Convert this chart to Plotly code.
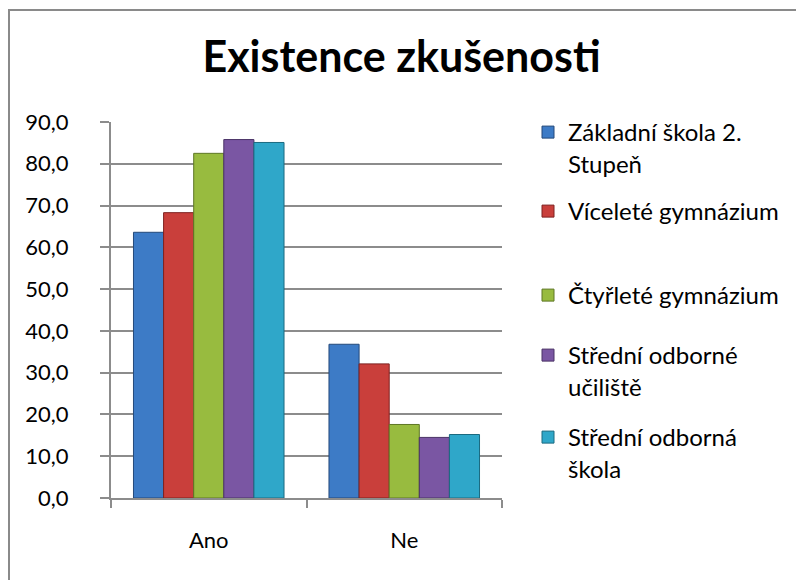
import plotly.graph_objects as go

categories = ["Ano", "Ne"]
series_names = [
    "Základní škola 2.<br>Stupeň",
    "Víceleté gymnázium",
    "Čtyřleté gymnázium",
    "Střední odborné<br>učiliště",
    "Střední odborná<br>škola",
]
zakladni = [63.6, 36.8]
vicelete = [68.3, 32.1]
ctyrlete = [82.5, 17.6]
sou = [85.8, 14.5]
sos = [85.1, 15.2]
values = [zakladni, vicelete, ctyrlete, sou, sos]
y_ticks = [0, 10, 20, 30, 40, 50, 60, 70, 80, 90]

colors = ["#3D7BC6", "#C93F3B", "#98BB3F", "#7A56A3", "#2FA7C9"]
edges = ["#24497A", "#7E2220", "#5E7725", "#4A3366", "#1B6A80"]

FONT = "Lato"
OFF = 8  # default page body margin
W, H = 804 - OFF, 580 - OFF
# page-pixel positions of plot area
PL, PR, PT, PB = 111, 502, 122, 498
L, T = PL - OFF, PT - OFF
R, B = W - (PR - OFF), H - (PB - OFF)
pw, ph = W - L - R, H - T - B

def px_x(x):  # page pixel -> paper
    return (x - OFF - L) / pw

def px_y(y):
    return (H - B - (y - OFF)) / ph

# page y of first text line centre for each legend entry
legend_line_centres = [132, 211, 295, 355, 437]
legend_tops = [c - 22 for c in legend_line_centres]

fig = go.Figure()
for i, (name, vals) in enumerate(zip(series_names, values)):
    lname = "legend" if i == 0 else f"legend{i+1}"
    fig.add_trace(go.Bar(
        x=categories, y=vals, name=name,
        marker=dict(color=colors[i], line=dict(color=edges[i], width=1)),
        legend=lname, showlegend=True,
    ))

legend_common = dict(
    font=dict(family=FONT, size=24, color="#000000"),
    bgcolor="rgba(0,0,0,0)", borderwidth=0,
    xanchor="left", yanchor="top", valign="top",
    itemclick=False, itemdoubleclick=False, visible=True,
)
for i, top in enumerate(legend_tops):
    key = "legend" if i == 0 else f"legend{i+1}"
    fig.update_layout(**{key: dict(x=px_x(528), y=px_y(top), **legend_common)})

fig.update_layout(
    width=W, height=H, showlegend=True,
    margin=dict(l=L, r=R, t=T, b=B),
    paper_bgcolor="white", plot_bgcolor="white",
    separators=", ",
    barmode="group", bargap=0.23, bargroupgap=0,
    font=dict(family=FONT, size=22, color="#000000"),
    title=dict(text="<b>Existence zkušenosti</b>", x=(401.5 - OFF) / W, xref="container",
               y=1 - (57 - OFF) / H, yref="container", xanchor="center", yanchor="middle",
               font=dict(family=FONT, size=43, color="#000000")),
    xaxis=dict(showline=True, linecolor="#8C8C8C", linewidth=2,
               ticks="outside", tickson="boundaries", ticklen=8, tickcolor="#8C8C8C",
               tickwidth=2, ticklabelstandoff=22, showgrid=False,
               tickfont=dict(family=FONT, size=22, color="#000000")),
    yaxis=dict(range=[0, 90], tickvals=y_ticks, tickformat=".1f",
               showline=True, linecolor="#8C8C8C", linewidth=2,
               ticks="outside", ticklen=9, tickcolor="#8C8C8C", tickwidth=2,
               showgrid=True, gridcolor="#8C8C8C", gridwidth=2,
               zeroline=False, ticklabelstandoff=27,
               tickfont=dict(family=FONT, size=22, color="#000000")),
    shapes=[dict(type="rect", xref="paper", yref="paper",
                 x0=px_x(9), x1=px_x(804 + 20), y0=px_y(580 + 20), y1=px_y(10),
                 line=dict(color="#8A8A8A", width=2), fillcolor="rgba(0,0,0,0)",
                 layer="below")],
)

fig.write_html("out.html")
